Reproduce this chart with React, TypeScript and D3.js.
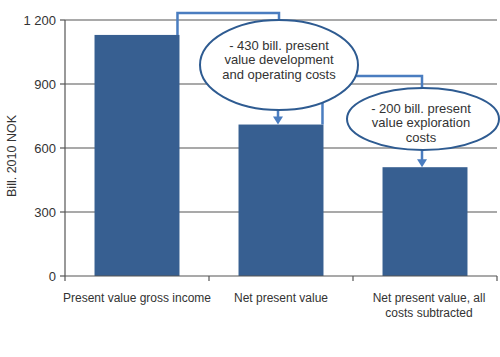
import React from "react";
import * as d3 from "d3";

const categories = ["Present value gross income", "Net present value", "Net present value, all costs subtracted"];
const categoryLines = [["Present value gross income"], ["Net present value"], ["Net present value, all", "costs subtracted"]];
const values = [1130, 710, 510];
const yTicks = [0, 300, 600, 900, 1200];
const yTickLabels = ["0", "300", "600", "900", "1 200"];
const note1 = ["- 430 bill. present", "value development", "and operating costs"];
const note2 = ["- 200 bill. present", "value exploration", "costs"];
const yTitle = "Bill. 2010 NOK";

const W = 500, H = 357;
const left = 65, right = 497, top = 20, bottom = 276;
const barColor = "#375f91";
const connColor = "#4a7dc0";
const ellColor = "#2e5b91";
const font = "Liberation Sans, Arial, sans-serif";

export default function App() {
  const x = d3.scaleBand<string>().domain(categories).range([left, right]).paddingInner(0.41).paddingOuter(0.205);
  const y = d3.scaleLinear().domain([0, 1200]).range([bottom, top]);
  const bw = x.bandwidth();
  const bx = (i: number) => x(categories[i]) as number;
  const cx = (i: number) => bx(i) + bw / 2;
  const tickXs = [left, ...categories.map((c, i) => bx(i) + bw + (x.step() - bw) / 2)];

  const e1 = { cx: 279, cy: 65, rx: 79, ry: 45 };
  const e2 = { cx: 423, cy: 119, rx: 76, ry: 31 };

  const p1 = `M${bx(0) + bw - 2},${y(values[0])} V13 H${e1.cx} V${e1.cy}`;
  const p2 = `M${bx(1) + bw - 1},${y(values[1])} V76 H${e2.cx - 1} V${e2.cy}`;

  const arrow = (xx: number, y0: number, y1: number) => (
    <g>
      <line x1={xx} x2={xx} y1={y0} y2={y1 - 6} stroke={connColor} strokeWidth={2.5} />
      <path d={`M${xx - 5},${y1 - 8} L${xx + 5},${y1 - 8} L${xx},${y1} Z`} fill={connColor} />
    </g>
  );

  return (
    <svg width={W} height={H} style={{ position: "absolute", left: 0, top: 0, background: "#fff" }} fontFamily={font}>
      {yTicks.filter((t) => t > 0).map((t) => (
        <line key={t} x1={left} x2={right} y1={y(t)} y2={y(t)} stroke="#555" strokeWidth={1.2} />
      ))}
      {values.map((v, i) => (
        <rect key={i} x={bx(i)} y={y(v)} width={bw} height={bottom - y(v)} fill={barColor} />
      ))}
      <line x1={left} x2={left} y1={top} y2={bottom} stroke="#555" strokeWidth={1.2} />
      <line x1={left} x2={right} y1={bottom} y2={bottom} stroke="#555" strokeWidth={1.2} />
      {yTicks.map((t, i) => (
        <g key={t}>
          <line x1={left - 5} x2={left} y1={y(t)} y2={y(t)} stroke="#555" strokeWidth={1.2} />
          <text x={left - 9} y={y(t)} dy="0.35em" textAnchor="end" fontSize={13} fill="#333">{yTickLabels[i]}</text>
        </g>
      ))}
      {tickXs.map((tx, i) => (
        <line key={i} x1={tx} x2={tx} y1={bottom} y2={bottom + 5} stroke="#555" strokeWidth={1.2} />
      ))}
      {categoryLines.map((lines, i) => (
        <text key={i} textAnchor="middle" fontSize={12} fill="#333">
          {lines.map((l, j) => (
            <tspan key={j} x={cx(i) + (i === 2 ? 4 : 0)} y={302 + j * 15}>{l}</tspan>
          ))}
        </text>
      ))}
      <text transform={`translate(12,156) rotate(-90)`} textAnchor="middle" fontSize={12.5} fill="#333" dy="0.35em">{yTitle}</text>
      <path d={p1} fill="none" stroke={connColor} strokeWidth={2.5} />
      <path d={p2} fill="none" stroke={connColor} strokeWidth={2.5} />
      {arrow(e1.cx - 1, e1.cy + e1.ry - 2, y(values[1]))}
      {arrow(e2.cx - 1, e2.cy + e2.ry - 2, y(values[2]))}
      <ellipse cx={e1.cx} cy={e1.cy} rx={e1.rx} ry={e1.ry} fill="#fff" stroke={ellColor} strokeWidth={2} />
      <ellipse cx={e2.cx} cy={e2.cy} rx={e2.rx} ry={e2.ry} fill="#fff" stroke={ellColor} strokeWidth={2} />
      <text textAnchor="middle" fontSize={13} fill="#333">
        {note1.map((l, j) => (
          <tspan key={j} x={e1.cx} y={45 + j * 14.5} dy="0.35em">{l}</tspan>
        ))}
      </text>
      <text textAnchor="middle" fontSize={13} fill="#333">
        {note2.map((l, j) => (
          <tspan key={j} x={e2.cx - 2} y={108 + j * 14.5} dy="0.35em">{l}</tspan>
        ))}
      </text>
    </svg>
  );
}
